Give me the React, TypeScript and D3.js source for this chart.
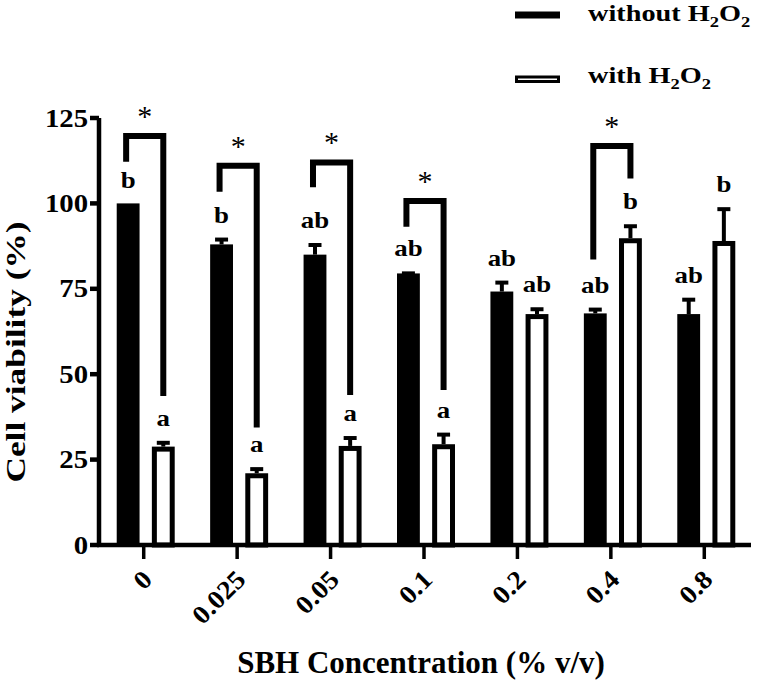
import React from "react";
import * as d3 from "d3";

const categories = ["0", "0.025", "0.05", "0.1", "0.2", "0.4", "0.8"];
const seriesNames = ["without", "with"];
const withoutMean = [100, 88, 85, 79.5, 74.2, 67.8, 67.6];
const withoutErr = [0, 2, 3.4, 0.6, 3.2, 1.7, 4.8];
const withMean = [28.8, 21.0, 29.0, 29.5, 67.6, 89.8, 89.0];
const withErr = [1.7, 1.8, 2.9, 3.4, 2.0, 4.1, 9.9];
const withoutLetters = ["b", "b", "ab", "ab", "ab", "ab", "ab"];
const withLetters = ["a", "a", "a", "a", "ab", "b", "b"];
const yTicks = [0, 25, 50, 75, 100, 125];
const sigCats = ["0", "0.025", "0.05", "0.1", "0.4"];
const sigTop = [119.7, 111, 112, 100.7, 116.8];
const sigLeftEnd = [112.2, 103.4, 104.7, 93.2, 83.6];
const sigRightEnd = [43.6, 34.4, 43.9, 45.4, 107.3];

const FONT = "'Liberation Serif', 'Times New Roman', serif";

export default function App() {
  const W = 760, H = 680;
  const x = d3.scaleBand<string>().domain(categories).range([97, 751]);
  const sub = d3.scaleBand<string>().domain(seriesNames).range([-27, 31]).paddingInner(0.35);
  const y = d3.scaleLinear().domain([0, 125]).range([545, 118]);
  const bw = sub.bandwidth();
  const cx = (c: string) => (x(c) as number) + x.bandwidth() / 2;
  const bc = (c: string, s: string) => cx(c) + (sub(s) as number) + bw / 2;
  const axisX = 99;
  const sw = 5;

  return (
    <svg width={W} height={H} style={{ position: "absolute", left: 0, top: 0, background: "#fff" }} fontFamily={FONT}>
      {/* bars without */}
      {categories.map((c, i) => (
        <rect key={"b0" + c} x={cx(c) + (sub("without") as number)} y={y(withoutMean[i])} width={bw} height={y(0) - y(withoutMean[i])} fill="#000" />
      ))}
      {/* bars with */}
      {categories.map((c, i) => (
        <rect key={"b1" + c} x={cx(c) + (sub("with") as number) + sw / 2} y={y(withMean[i]) + sw / 2} width={bw - sw} height={y(0) - y(withMean[i]) - sw / 2} fill="#fff" stroke="#000" strokeWidth={sw} />
      ))}
      {/* error bars */}
      {categories.map((c, i) => {
        const items = [
          { s: "without", m: withoutMean[i], e: withoutErr[i] },
          { s: "with", m: withMean[i], e: withErr[i] },
        ];
        return items.map((it) =>
          it.e > 0 ? (
            <g key={"e" + c + it.s} stroke="#000" strokeWidth={4}>
              <line x1={bc(c, it.s)} x2={bc(c, it.s)} y1={y(it.m)} y2={y(it.m + it.e) + 2} />
              <line x1={bc(c, it.s) - 6.5} x2={bc(c, it.s) + 6.5} y1={y(it.m + it.e) + 2} y2={y(it.m + it.e) + 2} />
            </g>
          ) : null
        );
      })}
      {/* letters */}
      {categories.map((c, i) => (
        <g key={"l" + c} fontWeight="bold" fontSize={24} textAnchor="middle">
          <text transform={`translate(${bc(c, "without")},${y(withoutMean[i] + withoutErr[i]) - 15}) scale(1.12,1)`}>{withoutLetters[i]}</text>
          <text transform={`translate(${bc(c, "with")},${y(withMean[i] + withErr[i]) - 15}) scale(1.12,1)`}>{withLetters[i]}</text>
        </g>
      ))}
      {/* significance brackets */}
      {sigCats.map((c, i) => {
        const lx = bc(c, "without") - 2;
        const rx = bc(c, "with");
        return (
          <g key={"s" + c}>
            <path d={`M${lx},${y(sigLeftEnd[i])}V${y(sigTop[i])}H${rx}V${y(sigRightEnd[i])}`} fill="none" stroke="#000" strokeWidth={6} strokeLinejoin="miter" />
            <text x={(lx + rx) / 2} y={y(sigTop[i]) - 10} textAnchor="middle" fontSize={30}>*</text>
          </g>
        );
      })}
      {/* axes */}
      <line x1={axisX} x2={axisX} y1={y(125)} y2={y(0)} stroke="#000" strokeWidth={4.5} />
      <line x1={97} x2={751} y1={y(0)} y2={y(0)} stroke="#000" strokeWidth={4.5} />
      {yTicks.map((t) => (
        <g key={"yt" + t}>
          <line x1={90} x2={axisX} y1={y(t)} y2={y(t)} stroke="#000" strokeWidth={4.5} />
          <text transform={`translate(88,${y(t) + 8.5}) scale(1.15,1)`} textAnchor="end" fontWeight="bold" fontSize={25}>{t}</text>
        </g>
      ))}
      {categories.map((c) => (
        <g key={"xt" + c}>
          <line x1={cx(c)} x2={cx(c)} y1={y(0)} y2={559} stroke="#000" strokeWidth={3.5} />
          <text transform={`translate(${cx(c) + 10},581) rotate(-45) scale(1.08,1)`} textAnchor="end" fontWeight="bold" fontSize={26}>{c}</text>
        </g>
      ))}
      {/* axis titles */}
      <text x={421} y={673} textAnchor="middle" fontWeight="bold" fontSize={31}>SBH Concentration (% v/v)</text>
      <text transform={`translate(25,352) rotate(-90) scale(1.31,1)`} textAnchor="middle" fontWeight="bold" fontSize={27}>Cell viability (%)</text>
      {/* legend */}
      <rect x={515} y={11.5} width={45} height={7} fill="#000" />
      <text transform="translate(588,21) scale(1.23,1)" fontWeight="bold" fontSize={23}>
        without H<tspan fontSize={15} dy={6}>2</tspan><tspan dy={-6}>O</tspan><tspan fontSize={15} dy={6}>2</tspan>
      </text>
      <rect x={516.5} y={77} width={42} height={4.5} fill="#fff" stroke="#000" strokeWidth={3} />
      <text transform="translate(588,83) scale(1.23,1)" fontWeight="bold" fontSize={23}>
        with H<tspan fontSize={15} dy={6}>2</tspan><tspan dy={-6}>O</tspan><tspan fontSize={15} dy={6}>2</tspan>
      </text>
    </svg>
  );
}
